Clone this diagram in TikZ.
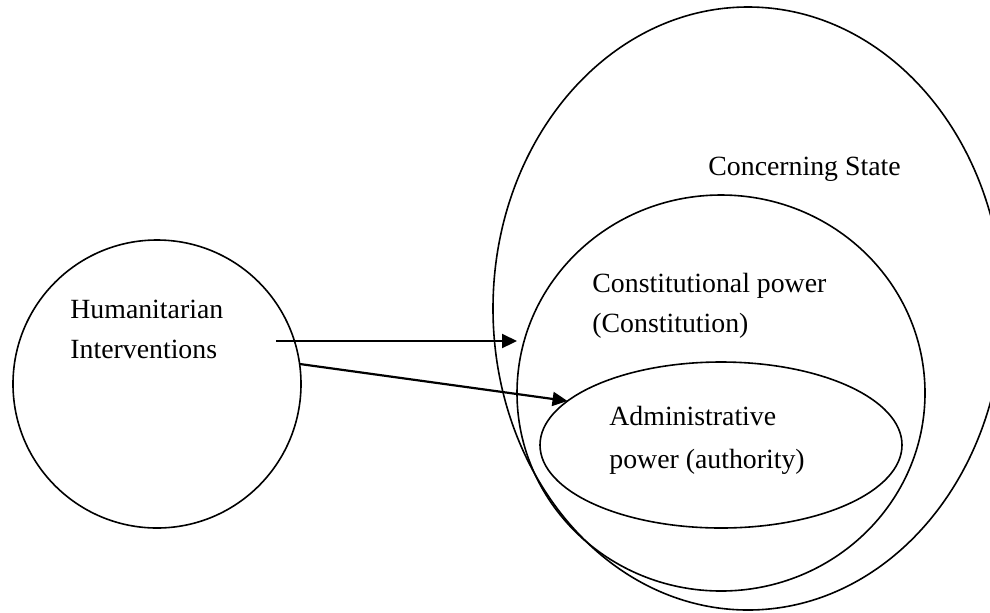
\documentclass[tikz,border=0pt]{standalone}
\usepackage{fontspec}
\setmainfont{Liberation Serif}
\usetikzlibrary{shapes.geometric,arrows.meta}
\begin{document}
\begin{tikzpicture}[x=0.5pt,y=-0.5pt,
  ring/.style={draw=black,line width=0.8pt,inner sep=0pt,outer sep=0pt},
  lbl/.style={anchor=base west,inner sep=0pt,align=left,font=\fontsize{13.9pt}{20pt}\selectfont},
  arr/.style={draw=black,line width=1.1pt,-{Triangle[length=7.5pt,width=7pt]}}]
\useasboundingbox (0,0) rectangle (990,612);
\clip (0,0) rectangle (990,612);
\node[ring,circle,minimum size=144pt] (hi) at (157,384) {};
\node[ring,ellipse,minimum width=255pt,minimum height=301.5pt] (state) at (748,308.5) {};
\node[ring,ellipse,minimum width=204pt,minimum height=198pt] (const) at (721,393) {};
\node[ring,ellipse,minimum width=181pt,minimum height=83pt] (admin) at (721,445) {};
\node[lbl] (hitxt) at (70,358) {Humanitarian\\Interventions};
\node[lbl] (statetxt) at (708,175) {Concerning State};
\node[lbl] (consttxt) at (592,332) {Constitutional power\\(Constitution)};
\node[lbl,font=\fontsize{13.9pt}{21.5pt}\selectfont] (admintxt) at (609,468) {Administrative\\power (authority)};
\coordinate (a1s) at (276,341);
\draw[arr] (a1s) -- (const.west |- a1s);
\draw[arr] (hi.8.7) -- (admin.164.6);
\end{tikzpicture}
\end{document}
